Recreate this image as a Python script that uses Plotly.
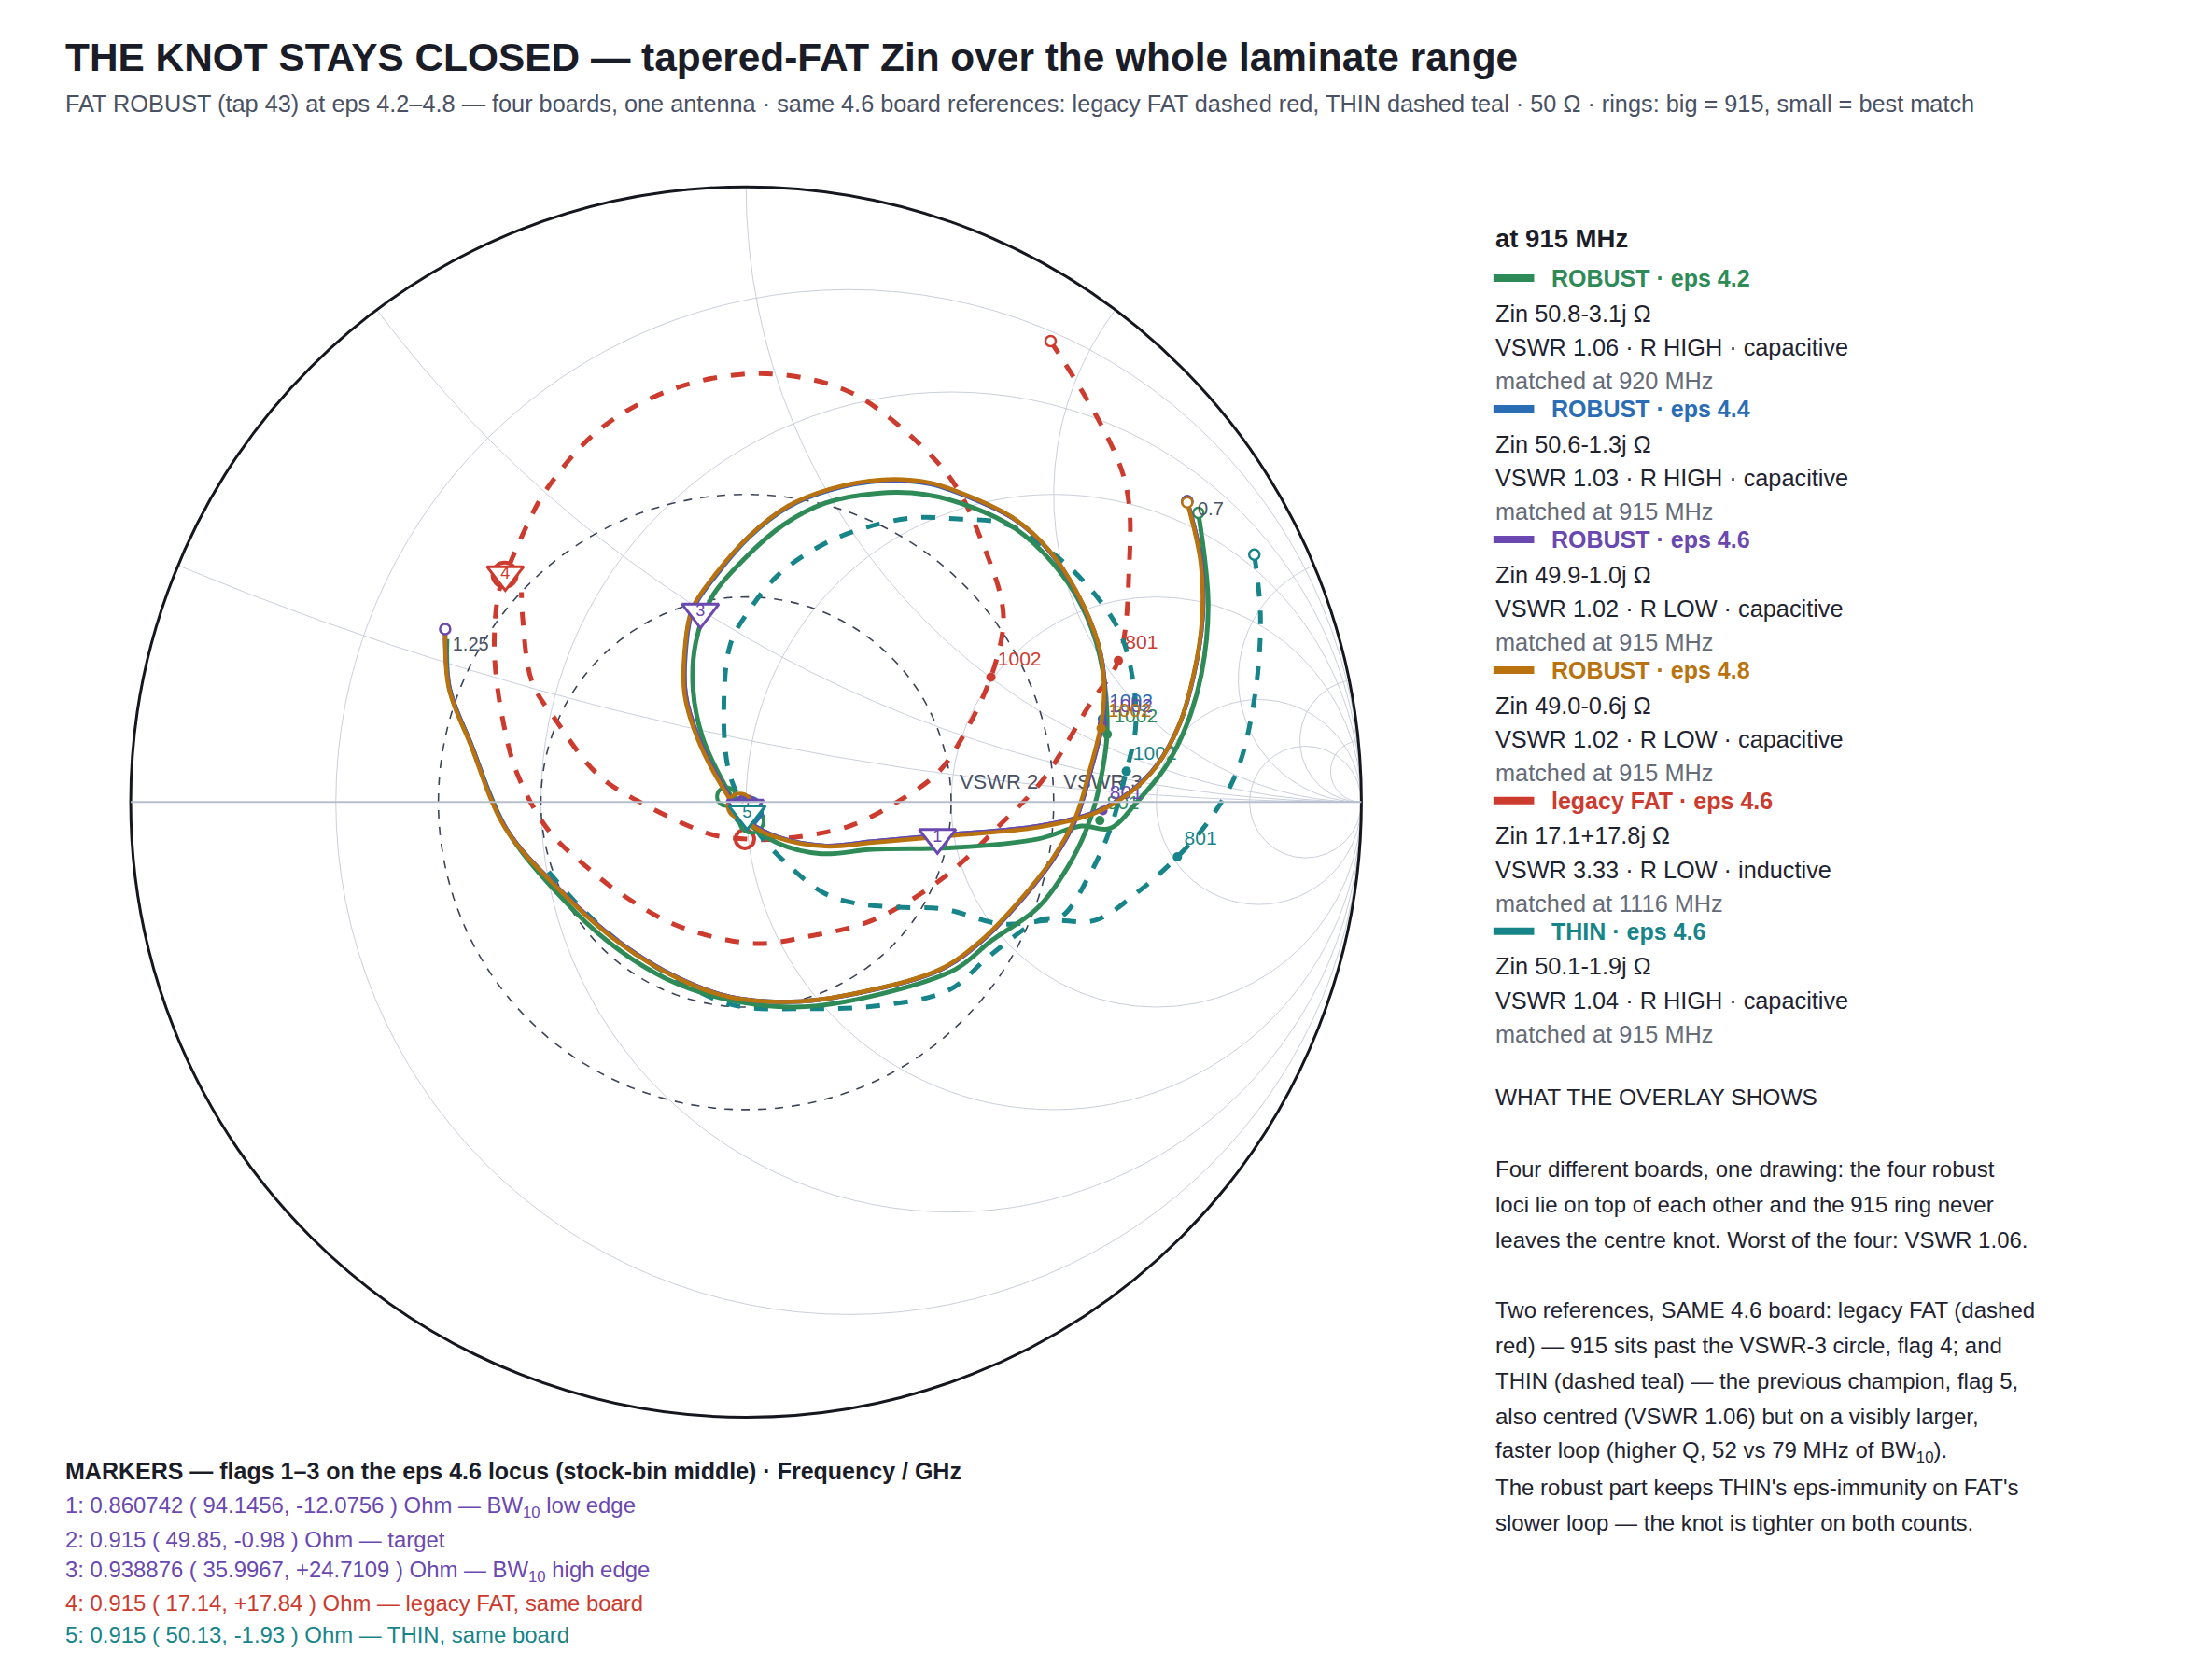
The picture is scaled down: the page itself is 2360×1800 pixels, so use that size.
import numpy as np
import plotly.graph_objects as go

# ---- data: reflection coefficient (re, im) ----
robust42 = [(0.735, 0.470), (0.751, 0.322), (0.740, 0.208), (0.717, 0.128), (0.683, 0.059), (0.637, 0.002),
            (0.591, -0.043), (0.545, -0.039), (0.475, -0.060), (0.341, -0.074), (0.206, -0.077), (0.122, -0.084),
            (0.052, -0.067), (0.006, -0.036), (-0.032, 0.023), (-0.071, 0.106), (-0.086, 0.182), (-0.082, 0.258),
            (-0.055, 0.334), (-0.002, 0.396), (0.060, 0.450), (0.129, 0.486), (0.214, 0.502), (0.291, 0.500),
            (0.368, 0.479), (0.437, 0.445), (0.498, 0.389), (0.545, 0.320), (0.575, 0.237), (0.587, 0.120),
            (0.579, 0.050), (0.560, -0.026), (0.529, -0.095), (0.475, -0.171), (0.398, -0.226), (0.340, -0.272),
            (0.215, -0.313), (0.089, -0.333), (-0.025, -0.322), (-0.128, -0.288), (-0.219, -0.231),
            (-0.304, -0.151), (-0.390, -0.043), (-0.447, 0.094), (-0.482, 0.185), (-0.486, 0.265)]
robust44 = [(0.717, 0.489), (0.740, 0.390), (0.742, 0.299), (0.728, 0.208), (0.705, 0.128), (0.667, 0.059),
            (0.626, 0.018), (0.568, -0.016), (0.475, -0.039), (0.329, -0.053), (0.206, -0.064), (0.129, -0.071),
            (0.052, -0.057), (0.006, -0.033), (-0.040, 0.030), (-0.078, 0.106), (-0.098, 0.175), (-0.098, 0.244),
            (-0.086, 0.313), (-0.048, 0.369), (0.006, 0.431), (0.068, 0.479), (0.137, 0.507), (0.222, 0.522),
            (0.298, 0.517), (0.368, 0.493), (0.437, 0.459), (0.491, 0.410), (0.537, 0.341), (0.572, 0.258),
            (0.583, 0.189), (0.579, 0.127), (0.560, 0.050), (0.537, -0.026), (0.498, -0.095), (0.437, -0.171),
            (0.383, -0.226), (0.317, -0.272), (0.203, -0.306), (0.089, -0.324), (-0.025, -0.317), (-0.116, -0.283),
            (-0.208, -0.226), (-0.299, -0.146), (-0.390, -0.043), (-0.447, 0.094), (-0.482, 0.185), (-0.489, 0.281)]
robust46 = [(0.717, 0.489), (0.740, 0.390), (0.742, 0.299), (0.728, 0.208), (0.705, 0.128), (0.667, 0.059),
            (0.626, 0.018), (0.568, -0.016), (0.475, -0.039), (0.329, -0.053), (0.206, -0.064), (0.129, -0.071),
            (0.052, -0.057), (0.006, -0.033), (-0.040, 0.030), (-0.078, 0.106), (-0.098, 0.175), (-0.099, 0.244),
            (-0.087, 0.313), (-0.049, 0.370), (0.005, 0.432), (0.067, 0.480), (0.137, 0.508), (0.222, 0.523),
            (0.298, 0.518), (0.368, 0.494), (0.437, 0.459), (0.491, 0.410), (0.537, 0.341), (0.572, 0.258),
            (0.583, 0.189), (0.579, 0.127), (0.560, 0.050), (0.537, -0.026), (0.498, -0.095), (0.437, -0.171),
            (0.383, -0.226), (0.317, -0.272), (0.203, -0.306), (0.089, -0.324), (-0.025, -0.317), (-0.116, -0.283),
            (-0.208, -0.226), (-0.299, -0.146), (-0.390, -0.043), (-0.447, 0.094), (-0.482, 0.185), (-0.489, 0.281)]
robust48 = [(0.717, 0.487), (0.739, 0.388), (0.741, 0.297), (0.727, 0.206), (0.704, 0.126), (0.666, 0.057),
            (0.625, 0.016), (0.567, -0.018), (0.475, -0.041), (0.329, -0.055), (0.206, -0.066), (0.129, -0.072),
            (0.052, -0.058), (0.004, -0.034), (-0.042, 0.030), (-0.080, 0.106), (-0.100, 0.175), (-0.100, 0.244),
            (-0.088, 0.313), (-0.050, 0.370), (0.005, 0.432), (0.068, 0.481), (0.137, 0.509), (0.222, 0.524),
            (0.298, 0.519), (0.368, 0.495), (0.437, 0.460), (0.491, 0.411), (0.537, 0.342), (0.572, 0.258),
            (0.582, 0.189), (0.577, 0.127), (0.558, 0.050), (0.535, -0.026), (0.496, -0.095), (0.435, -0.171),
            (0.381, -0.226), (0.315, -0.272), (0.201, -0.306), (0.087, -0.324), (-0.027, -0.317), (-0.118, -0.283),
            (-0.210, -0.226), (-0.300, -0.146), (-0.391, -0.043), (-0.448, 0.094), (-0.483, 0.185), (-0.489, 0.279)]
legacy_fat = [(0.495, 0.749), (0.614, 0.528), (0.622, 0.369), (0.605, 0.230), (0.560, 0.161), (0.483, 0.037),
              (0.414, -0.036), (0.322, -0.122), (0.206, -0.192), (0.098, -0.219), (0.014, -0.230), (-0.109, -0.202),
              (-0.202, -0.150), (-0.263, -0.102), (-0.321, -0.046), (-0.371, 0.044), (-0.394, 0.127),
              (-0.409, 0.244), (-0.402, 0.341), (-0.391, 0.370), (-0.355, 0.452), (-0.325, 0.507), (-0.240, 0.604),
              (-0.125, 0.669), (-0.009, 0.695), (0.091, 0.690), (0.183, 0.659), (0.295, 0.569), (0.345, 0.507),
              (0.383, 0.424), (0.414, 0.334), (0.418, 0.286), (0.398, 0.203), (0.352, 0.106), (0.314, 0.050),
              (0.260, 0.009), (0.168, -0.039), (0.052, -0.060), (-0.002, -0.060), (-0.055, -0.053),
              (-0.163, -0.005), (-0.240, 0.044), (-0.309, 0.133), (-0.348, 0.196), (-0.363, 0.299), (-0.365, 0.341)]
thin46 = [(0.826, 0.402), (0.836, 0.299), (0.826, 0.167), (0.797, 0.048), (0.751, -0.032), (0.701, -0.089),
          (0.637, -0.146), (0.568, -0.192), (0.497, -0.192), (0.414, -0.198), (0.322, -0.174), (0.245, -0.171),
          (0.175, -0.164), (0.125, -0.147), (0.068, -0.102), (0.022, -0.053), (0.002, -0.019), (-0.028, 0.050),
          (-0.036, 0.161), (-0.025, 0.258), (0.006, 0.313), (0.052, 0.369), (0.122, 0.417), (0.191, 0.445),
          (0.272, 0.462), (0.345, 0.460), (0.422, 0.452), (0.491, 0.410), (0.552, 0.355), (0.606, 0.279),
          (0.629, 0.196), (0.633, 0.120), (0.618, 0.050), (0.591, -0.046), (0.560, -0.115), (0.514, -0.185),
          (0.477, -0.192), (0.397, -0.249), (0.329, -0.306), (0.215, -0.331), (0.096, -0.336), (-0.025, -0.329),
          (-0.128, -0.279), (-0.208, -0.226), (-0.276, -0.164), (-0.326, -0.107)]

# frequency labels (801 / 1002 MHz) read as reflection coefficient
f801 = {"g42": (0.575, -0.030), "g46": (0.580, -0.014), "leg": (0.605, 0.230), "thin": (0.701, -0.089)}
f1002 = {"g42": (0.587, 0.110), "g44": (0.579, 0.135), "g46": (0.579, 0.127), "g48": (0.577, 0.120),
         "leg": (0.398, 0.203), "thin": (0.618, 0.050)}

# Zin at 915 MHz, ohm
zin915 = {"g42": 50.8 - 3.1j, "g44": 50.6 - 1.3j, "g46": 49.9 - 1.0j, "g48": 49.0 - 0.6j,
          "leg": 17.1 + 17.8j, "thin": 50.1 - 1.9j}
best_match = {"g42": (-0.032, 0.009), "leg": (-0.002, -0.060)}

flag_names = ["1", "2", "3", "4", "5"]
flag_z = [94.1456 - 12.0756j, 49.85 - 0.98j, 35.9967 + 24.7109j, 17.14 + 17.84j, 50.13 - 1.93j]
vswr_levels = [2, 3]

C = {"g42": "#2e8b57", "g44": "#2a6db5", "g46": "#6a48b0", "g48": "#b8730f",
     "leg": "#cc3b2e", "thin": "#168489"}
flag_col = [C["g46"], C["g46"], C["g46"], C["leg"], C["thin"]]
FONT = "Liberation Sans, Arial, sans-serif"
W, H = 2344, 1784
K = 1.505  # reference pixel -> page pixel


def z_of(g):
    g = np.asarray(g, dtype=float).reshape(-1, 2)
    gc = g[:, 0] + 1j * g[:, 1]
    z = (1 + gc) / (1 - gc)
    return z.real, z.imag


fig = go.Figure()

# VSWR circles
th = np.linspace(0, 2 * np.pi, 181)
for s in vswr_levels:
    rho = (s - 1) / (s + 1)
    gc = rho * np.exp(1j * th)
    z = (1 + gc) / (1 - gc)
    fig.add_trace(go.Scattersmith(real=z.real, imag=z.imag, mode="lines",
                                  line=dict(color="#3c4458", width=1.6, dash="dash"), hoverinfo="skip"))
for s, gx in zip(vswr_levels, [0.411, 0.580]):
    r, i = z_of((gx, 0.030))
    fig.add_trace(go.Scattersmith(real=r, imag=i, mode="text", text=[f"VSWR {s}"],
                                  textfont=dict(size=22, color="#4a5163", family=FONT)))

traces = [("leg", legacy_fat, "dash", 5), ("thin", thin46, "dash", 5),
          ("g42", robust42, "solid", 5), ("g44", robust44, "solid", 4.5),
          ("g46", robust46, "solid", 4.5), ("g48", robust48, "solid", 4.5)]
for key, pts, dash, w in traces:
    r, i = z_of(pts)
    fig.add_trace(go.Scattersmith(real=r, imag=i, mode="lines",
                                  line=dict(color=C[key], width=w, dash=dash, shape="spline")))
    fig.add_trace(go.Scattersmith(real=[r[0]], imag=[i[0]], mode="markers",
                                  marker=dict(size=11, color="white", line=dict(color=C[key], width=2.5))))
    z = zin915[key] / 50
    fig.add_trace(go.Scattersmith(real=[z.real], imag=[z.imag], mode="markers",
                                  marker=dict(size=26, color="rgba(0,0,0,0)", line=dict(color=C[key], width=4))))
    if key in best_match:
        br, bi = z_of(best_match[key])
        fig.add_trace(go.Scattersmith(real=br, imag=bi, mode="markers",
                                      marker=dict(size=20, color="rgba(0,0,0,0)", line=dict(color=C[key], width=4))))
    for lab, d in [("801", f801), ("1002", f1002)]:
        if key in d:
            lr, li = z_of(d[key])
            fig.add_trace(go.Scattersmith(real=lr, imag=li, mode="markers+text", text=[lab], textposition="top right",
                                          marker=dict(size=10, color=C[key]),
                                          textfont=dict(size=21, color=C[key], family=FONT)))

# end labels
r, i = z_of(robust46)
fig.add_trace(go.Scattersmith(real=[r[-1]], imag=[i[-1]], mode="markers+text", text=["1.25"],
                              textposition="bottom right",
                              marker=dict(size=11, color="white", line=dict(color=C["g46"], width=2.5)),
                              textfont=dict(size=20, color="#4a5163", family=FONT)))
fig.add_trace(go.Scattersmith(real=[r[0]], imag=[i[0]], mode="text", text=["  0.7"], textposition="bottom right",
                              textfont=dict(size=20, color="#4a5163", family=FONT)))

# flags
for n, z, col in zip(flag_names, flag_z, flag_col):
    zz = z / 50
    fig.add_trace(go.Scattersmith(real=[zz.real], imag=[zz.imag], mode="markers+text", text=[n],
                                  textposition="middle center",
                                  marker=dict(symbol="triangle-down", size=34, color="white",
                                              line=dict(color=col, width=3)),
                                  textfont=dict(size=18, color=col, family=FONT)))

grid = "#c9cfdb"
fig.update_layout(
    width=W, height=H, showlegend=False, paper_bgcolor="white",
    margin=dict(l=0, r=0, t=0, b=0), font=dict(family=FONT),
    smith=dict(domain=dict(x=[0.0563, 0.6188], y=[0.1533, 0.8923]), bgcolor="white",
               realaxis=dict(showticklabels=False, gridcolor=grid, linecolor="#b7bfcc", linewidth=2,
                             tickvals=[0.2, 0.5, 1, 2, 5, 10]),
               imaginaryaxis=dict(showticklabels=False, gridcolor=grid, linecolor="#15171f", linewidth=3,
                                  tickvals=[0.2, 0.5, 1, 2, 5, 10, 20])),
)

ann = []


def txt(x, y, s, size=25, color="#1f2330", bold=False):
    if bold:
        s = f"<b>{s}</b>"
    ann.append(dict(x=(x * K - 8) / W, y=1 - (y * K - 8) / H, xref="paper", yref="paper", text=s,
                    showarrow=False, xanchor="left", yanchor="middle",
                    font=dict(size=size, color=color, family=FONT)))


txt(45, 41, "THE KNOT STAYS CLOSED — tapered-FAT Zin over the whole laminate range", 42.4, "#1a1c28", True)
txt(45, 74, "FAT ROBUST (tap 43) at eps 4.2–4.8 — four boards, one antenna · same 4.6 board references: legacy FAT "
             "dashed red, THIN dashed teal · 50 Ω · rings: big = 915, small = best match", 25.3, "#4a5163")

txt(1063, 170, "at 915 MHz", 27.5, "#1a1c28", True)
legend_rows = [("g42", "ROBUST · eps 4.2", "Zin 50.8-3.1j Ω", "VSWR 1.06 · R HIGH · capacitive", "matched at 920 MHz"),
               ("g44", "ROBUST · eps 4.4", "Zin 50.6-1.3j Ω", "VSWR 1.03 · R HIGH · capacitive", "matched at 915 MHz"),
               ("g46", "ROBUST · eps 4.6", "Zin 49.9-1.0j Ω", "VSWR 1.02 · R LOW · capacitive", "matched at 915 MHz"),
               ("g48", "ROBUST · eps 4.8", "Zin 49.0-0.6j Ω", "VSWR 1.02 · R LOW · capacitive", "matched at 915 MHz"),
               ("leg", "legacy FAT · eps 4.6", "Zin 17.1+17.8j Ω", "VSWR 3.33 · R LOW · inductive", "matched at 1116 MHz"),
               ("thin", "THIN · eps 4.6", "Zin 50.1-1.9j Ω", "VSWR 1.04 · R HIGH · capacitive", "matched at 915 MHz")]
shapes = []
for k, (key, head, zl, vl, ml) in enumerate(legend_rows):
    y0 = 198 + 93 * k
    yp = 1 - (y0 * K - 8) / H
    shapes.append(dict(type="line", xref="paper", yref="paper", x0=(1063 * K - 8) / W,
                       x1=(1092 * K - 8) / W, y0=yp, y1=yp, line=dict(color=C[key], width=8)))
    txt(1103, y0, head, 25, C[key], True)
    txt(1063, y0 + 25, zl, 25.3)
    txt(1063, y0 + 49, vl, 25.3)
    txt(1063, y0 + 73, ml, 25.3, "#666b78")

txt(1063, 781, "WHAT THE OVERLAY SHOWS", 24.5)
para = ["Four different boards, one drawing: the four robust",
        "loci lie on top of each other and the 915 ring never",
        "leaves the centre knot. Worst of the four: VSWR 1.06.",
        "",
        "Two references, SAME 4.6 board: legacy FAT (dashed",
        "red) — 915 sits past the VSWR-3 circle, flag 4; and",
        "THIN (dashed teal) — the previous champion, flag 5,",
        "also centred (VSWR 1.06) but on a visibly larger,",
        "faster loop (higher Q, 52 vs 79 MHz of BW<sub>10</sub>).",
        "The robust part keeps THIN's eps-immunity on FAT's",
        "slower loop — the knot is tighter on both counts."]
for j, line in enumerate(para):
    if line:
        txt(1063, 832 + 25.2 * j, line, 24)

txt(45, 1047, "MARKERS — flags 1–3 on the eps 4.6 locus (stock-bin middle) · Frequency / GHz", 25, "#1a1c28", True)
marker_lines = [("1: 0.860742 ( 94.1456, -12.0756 ) Ohm — BW<sub>10</sub> low edge", C["g46"]),
                ("2: 0.915 ( 49.85, -0.98 ) Ohm — target", C["g46"]),
                ("3: 0.938876 ( 35.9967, +24.7109 ) Ohm — BW<sub>10</sub> high edge", C["g46"]),
                ("4: 0.915 ( 17.14, +17.84 ) Ohm — legacy FAT, same board", C["leg"]),
                ("5: 0.915 ( 50.13, -1.93 ) Ohm — THIN, same board", C["thin"])]
for j, (line, col) in enumerate(marker_lines):
    txt(45, 1073 + 22.7 * j, line, 23.9, col)

fig.update_layout(annotations=ann, shapes=shapes)
fig.write_html("out.html")
